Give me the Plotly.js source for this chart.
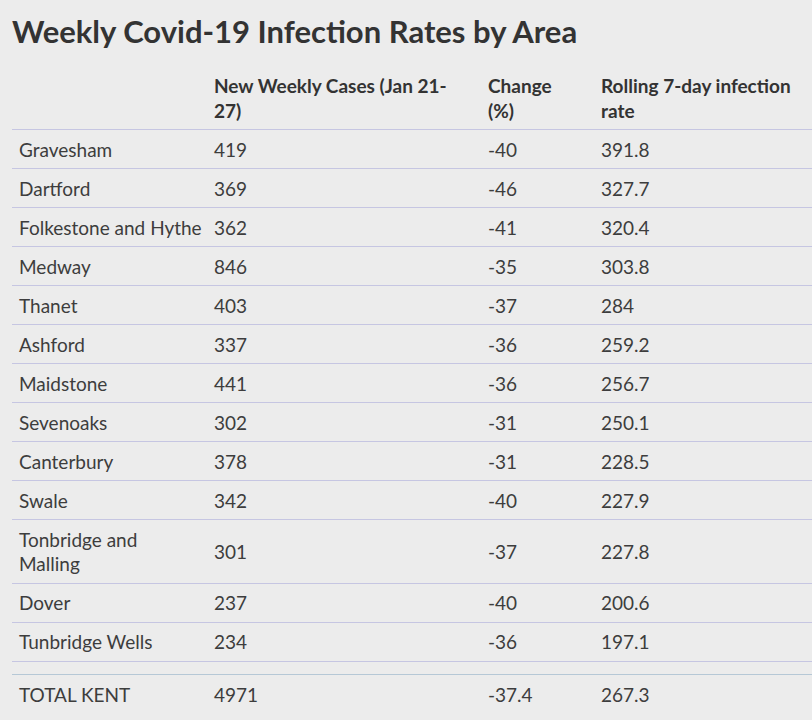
<!DOCTYPE html>
<html><head><meta charset="utf-8">
<script src="https://cdn.plot.ly/plotly-3.0.1.min.js"></script>
<style>html,body{margin:0;padding:0;background:#ececec;}</style>
</head><body><div id="chart" style="width:812px;height:720px;"></div>
<script>
// ---- data ----
const chartTitle = "Weekly Covid-19 Infection Rates by Area";
const headers = ["", "New Weekly Cases (Jan 21-<br>27)", "Change<br>(%)", "Rolling 7-day infection<br>rate"];
const areas = ["Gravesham","Dartford","Folkestone and Hythe","Medway","Thanet","Ashford","Maidstone","Sevenoaks","Canterbury","Swale","Tonbridge and<br>Malling","Dover","Tunbridge Wells"];
const weeklyCases = [419,369,362,846,403,337,441,302,378,342,301,237,234];
const changePct = [-40,-46,-41,-35,-37,-36,-36,-31,-31,-40,-37,-40,-36];
const rollingRate = [391.8,327.7,320.4,303.8,284,259.2,256.7,250.1,228.5,227.9,227.8,200.6,197.1];
const totalLabel = "TOTAL KENT";
const totalCases = 4971;
const totalChange = -37.4;
const totalRate = 267.3;

// ---- layout constants (pixels) ----
const W = 812, H = 720;
const colX = [19, 214, 488, 601];
const headerTop = 66, lineH = 24.5, rowPad = 14.5, gapH = 13.5;
const textDy = 3;   // optical baseline nudge for text
const FONT = "Lato, 'Noto Sans', sans-serif";
const textColor = "#3d3d3d";

const nLines = s => String(s).split(/<br>/i).length;

let y = headerTop;
const headerH = rowPad + lineH * Math.max(...headers.map(nLines));
const headerCenter = y + headerH / 2 + textDy;
y += headerH;
const boundaries = [y];
const rowCenters = [];
areas.forEach(a => {
  const h = rowPad + lineH * nLines(a);
  rowCenters.push(y + h / 2 + textDy);
  y += h;
  boundaries.push(y);
});
y += gapH;
const sepY = y;
const totalCenter = y + (rowPad + lineH) / 2 + textDy;

const cols = [areas, weeklyCases.map(String), changePct.map(String), rollingRate.map(String)];
const totals = [totalLabel, String(totalCases), String(totalChange), String(totalRate)];

const traces = [];
cols.forEach((vals, c) => {
  traces.push({
    type: 'scatter', mode: 'text', cliponaxis: false, hoverinfo: 'skip', showlegend: false,
    x: vals.map(() => colX[c]), y: rowCenters, text: vals,
    textposition: 'middle right',
    textfont: {family: FONT, size: 19, color: textColor}
  });
});
traces.push({
  type: 'scatter', mode: 'text', cliponaxis: false, hoverinfo: 'skip', showlegend: false,
  x: colX, y: colX.map(() => headerCenter), text: headers,
  textposition: 'middle right',
  textfont: {family: FONT, size: 19, color: '#333333', weight: 'bold'}
});
traces.push({
  type: 'scatter', mode: 'text', cliponaxis: false, hoverinfo: 'skip', showlegend: false,
  x: colX, y: colX.map(() => totalCenter), text: totals,
  textposition: 'middle right',
  textfont: {family: FONT, size: 19, color: textColor}
});

const layout = {
  width: W, height: H,
  margin: {l: 12, r: 0, t: 0, b: 0},
  paper_bgcolor: '#ececec', plot_bgcolor: '#ececec',
  title: {
    text: chartTitle, xref: 'container', x: 12 / W, xanchor: 'left',
    yref: 'container', y: 1 - 32 / H, yanchor: 'middle',
    font: {family: FONT, size: 31, color: '#333333', weight: 'bold'}
  },
  xaxis: {range: [12, W], showgrid: false, zeroline: false, showticklabels: false, showline: false, ticks: '', fixedrange: true},
  yaxis: {range: [H, 0], tickvals: boundaries, showgrid: true, gridcolor: '#c6c6e2', gridwidth: 1,
          zeroline: false, showticklabels: false, showline: false, ticks: '', fixedrange: true},
  yaxis2: {range: [H, 0], overlaying: 'y', side: 'right', tickvals: [sepY], showgrid: true, gridcolor: '#b6c8d6', gridwidth: 1,
           zeroline: false, showticklabels: false, showline: false, ticks: '', fixedrange: true}
};
traces.push({type: 'scatter', mode: 'none', x: [], y: [], yaxis: 'y2', showlegend: false, hoverinfo: 'skip'});

Plotly.newPlot('chart', traces, layout, {displayModeBar: false, staticPlot: true});
</script></body></html>
